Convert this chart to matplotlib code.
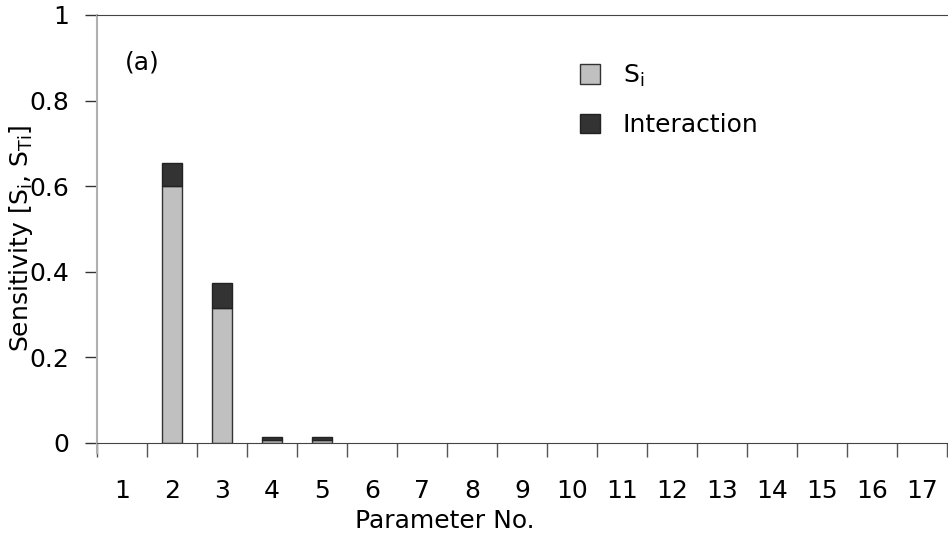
import matplotlib
matplotlib.use("Agg")
from matplotlib import pyplot as plt
from matplotlib.ticker import FixedLocator

# values
params = list(range(1, 18))
s_i = [0, 0.600, 0.315, 0.006, 0.006, 0, 0, 0, 0, 0, 0, 0, 0, 0, 0, 0, 0]
interaction = [0, 0.054, 0.058, 0.008, 0.008, 0, 0, 0, 0, 0, 0, 0, 0, 0, 0, 0, 0]
y_ticks = [0, 0.2, 0.4, 0.6, 0.8, 1]
y_tick_labels = ["0", "0.2", "0.4", "0.6", "0.8", "1"]

plt.rcParams['font.family'] = ['DejaVu Sans']

fig = plt.figure(figsize=(9.48, 5.4), dpi=100)
ax = fig.add_axes([97/948, 97/540, 850/948, 428/540])

# no outline on empty bars
lw_si = [1 if v > 0 else 0 for v in s_i]
lw_int = [1 if v > 0 else 0 for v in interaction]
ax.bar(params, s_i, width=0.4, color='#c0c0c0', edgecolor='#333333',
       linewidth=lw_si, label='S$_\\mathregular{i}$')
ax.bar(params, interaction, width=0.4, bottom=s_i, color='#333333',
       edgecolor='#222222', linewidth=lw_int, label='Interaction')

ax.set_xlim(0.5, 17.5)
ax.set_ylim(0, 1)

# y axis
ax.set_yticks(y_ticks)
ax.set_yticklabels(y_tick_labels, fontsize=18)
ax.tick_params(axis='y', length=9, width=1, color='#333333', pad=11)

# x axis: ticks on category boundaries, labels in the middle
ax.xaxis.set_major_locator(FixedLocator([p + 0.5 for p in [0] + params]))
ax.xaxis.set_major_formatter(plt.NullFormatter())
ax.xaxis.set_minor_locator(FixedLocator(params))
ax.set_xticklabels([str(p) for p in params], minor=True, fontsize=18)
ax.tick_params(axis='x', which='major', length=10, width=1, color='#555555')
ax.tick_params(axis='x', which='minor', length=0, pad=26)

ax.spines['right'].set_visible(False)
ax.spines['top'].set_color('#444444')
ax.spines['bottom'].set_color('#444444')
ax.spines['left'].set_color('#b0b0b0')
ax.spines['left'].set_linewidth(1.5)
ax.spines['left'].set_bounds(-0.023, 1)

ax.set_xlabel('Parameter No.', fontsize=18)
ax.xaxis.set_label_coords((445 - 97) / 850, -0.155)
ax.set_ylabel('Sensitivity [S$_\\mathregular{i}$, S$_\\mathregular{Ti}$]', fontsize=18)
ax.yaxis.set_label_coords(-0.073, 0.479)

ax.text(0.053, 0.888, '(a)', transform=ax.transAxes, fontsize=18,
        va='center', ha='center')

leg = ax.legend(loc='upper left', bbox_to_anchor=(0.557, 0.912), frameon=False,
                fontsize=18, handlelength=0.8, handleheight=0.8,
                handletextpad=0.9, labelspacing=0.96, borderaxespad=0)
for patch in leg.get_patches():
    patch.set_linewidth(1)

fig.savefig('out.png', dpi=100)
